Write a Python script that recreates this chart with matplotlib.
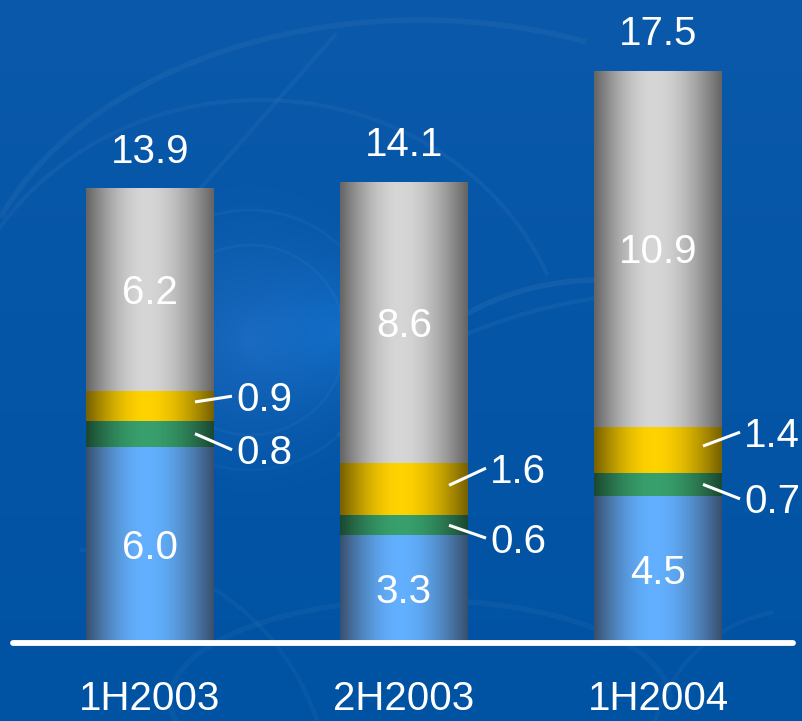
import numpy as np
import matplotlib
matplotlib.use("Agg")
import matplotlib.pyplot as plt
from matplotlib.patches import Arc, Circle
from matplotlib.colors import to_rgb

# ---- data -------------------------------------------------------------
periods = ["1H2003", "2H2003", "1H2004"]
blue_vals = [6.0, 3.3, 4.5]
green_vals = [0.8, 0.6, 0.7]
yellow_vals = [0.9, 1.6, 1.4]
gray_vals = [6.2, 8.6, 10.9]
totals = [13.9, 14.1, 17.5]

# (edge colour, highlight colour) for the cylinder shading of each layer
layer_colors = [
    ("#38506e", "#62b0ff"),   # blue
    ("#1a4830", "#38a06c"),   # green
    ("#766000", "#ffd200"),   # yellow
    ("#646464", "#d6d6d6"),   # gray
]

W, H = 802, 721
fig = plt.figure(figsize=(W / 100, H / 100), dpi=100)

# ---- background (pixel coordinates) ----------------------------------
bg = fig.add_axes([0, 0, 1, 1])
bg.set_xlim(0, W)
bg.set_ylim(H, 0)
bg.axis("off")

yy, xx = np.mgrid[0:H, 0:W]
top = np.array(to_rgb("#0a59aa"))
bot = np.array(to_rgb("#0052a3"))
frac = (yy / H)[..., None]
img = top * (1 - frac) + bot * frac
# soft glow
r = np.hypot(xx - 250, yy - 340)
glow = np.clip(1 - r / 170, 0, 1) ** 1.5
img = img + glow[..., None] * np.array([0.08, 0.08, 0.10])
r2 = np.hypot(xx - 340, yy - 330)
glow2 = np.clip(1 - r2 / 120, 0, 1) ** 2
img = img + glow2[..., None] * np.array([0.02, 0.07, 0.10])
bg.imshow(np.clip(img, 0, 1), extent=(0, W, H, 0), aspect="auto", zorder=0)

arc_specs = [
    # (cx, cy, w, h, theta1, theta2, lw, alpha)
    (420, 330, 900, 620, 195, 300, 4, 0.045),
    (260, 380, 620, 560, 200, 340, 3, 0.04),
    (700, 500, 760, 420, 190, 260, 3, 0.04),
    (600, 430, 420, 300, 200, 300, 4, 0.05),
    (420, 700, 500, 200, 150, 360, 4, 0.035),
    (80, 800, 500, 500, 270, 360, 3, 0.035),
    (800, 760, 300, 300, 180, 260, 3, 0.035),
]
for cx, cy, w, h, t1, t2, lw, a in arc_specs:
    bg.add_patch(Arc((cx, cy), w, h, theta1=t1, theta2=t2,
                     color="white", lw=lw, alpha=a, zorder=1))
bg.plot([335, 190], [35, 200], color="white", lw=3, alpha=0.04, zorder=1)
for rad, a in [(95, 0.03), (130, 0.03)]:
    bg.add_patch(Circle((250, 340), rad, fill=False, ec="white",
                        lw=2, alpha=a, zorder=1))

# ---- chart axes ------------------------------------------------------
ax = fig.add_axes([0, 0, 1, 1])
ax.patch.set_alpha(0)
ax.axis("off")
ppu = 32.7          # pixels per value unit
ppx = 254.0         # pixels per category step
base_px = 78.0      # baseline height from bottom

x = np.arange(len(periods))
bar_w = 128 / ppx

t = np.linspace(0, 1, 256)
d = np.where(t < 0.47, (t - 0.47) / 0.47, (t - 0.47) / 0.53)
shade = np.cos(np.clip(np.abs(d), 0, 1) * np.pi / 2) ** 1.0


def shaded(container, edge, center):
    e, c = np.array(to_rgb(edge)), np.array(to_rgb(center))
    grad = (e + (c - e) * shade[:, None])[None, :, :]
    for p in container.patches:
        x0, y0 = p.get_x(), p.get_y()
        w, h = p.get_width(), p.get_height()
        im = ax.imshow(grad, extent=(x0, x0 + w, y0, y0 + h),
                       aspect="auto", zorder=2, interpolation="bicubic")
        im.set_clip_path(p)


layers = [blue_vals, green_vals, yellow_vals, gray_vals]
bottom = np.zeros(len(periods))
bottoms = []
for vals, (edge, center) in zip(layers, layer_colors):
    bars = ax.bar(x, vals, bar_w, bottom=bottom, color="none",
                  edgecolor="none", zorder=2)
    shaded(bars, edge, center)
    bottoms.append(bottom.copy())
    bottom = bottom + np.array(vals)

ax.set_ylim(-base_px / ppu, (H - base_px) / ppu)
ax.set_xlim(-150 / ppx, (W - 150) / ppx)

# baseline
ax.plot([-137 / ppx, 643 / ppx], [0, 0], color="white", lw=4.2,
        solid_capstyle="round", zorder=4)

FS = 29
num_font = dict(family=["Liberation Sans", "DejaVu Sans"], color="white",
                fontsize=FS)
half_digit = 0.716 * FS / 2   # points


def centered_text(xv, yv, s, ha="center"):
    ax.annotate(s, (xv, yv), xytext=(0, -half_digit),
                textcoords="offset points", ha=ha, va="baseline",
                zorder=5, **num_font)


# values inside the big layers and totals above
for i in range(len(periods)):
    centered_text(x[i], blue_vals[i] / 2, f"{blue_vals[i]:.1f}")
    centered_text(x[i], bottoms[3][i] + gray_vals[i] / 2, f"{gray_vals[i]:.1f}")
    centered_text(x[i], totals[i] + 40 / ppu, f"{totals[i]:.1f}")

# thin layers labelled to the right with leader lines
x_start, x_end, x_text = 45 / ppx, 82 / ppx, 86 / ppx
for i in range(len(periods)):
    yc = bottoms[2][i] + yellow_vals[i] / 2
    y_lab = bottoms[2][i] + yellow_vals[i] - 5 / ppu
    ax.plot([x[i] + x_start, x[i] + x_end], [yc + 4 / ppu, y_lab],
            color="white", lw=2.2, solid_capstyle="butt", zorder=5)
    centered_text(x[i] + x_text, y_lab, f"{yellow_vals[i]:.1f}", ha="left")

    gc = bottoms[1][i] + green_vals[i] / 2
    g_lab = bottoms[1][i] - 3 / ppu
    ax.plot([x[i] + x_start, x[i] + x_end], [gc, g_lab],
            color="white", lw=2.2, solid_capstyle="butt", zorder=5)
    centered_text(x[i] + x_text, g_lab, f"{green_vals[i]:.1f}", ha="left")

# category labels under the baseline
for i, lab in enumerate(periods):
    centered_text(x[i], (25 - base_px) / ppu, lab)

fig.savefig("out.png", dpi=100)
